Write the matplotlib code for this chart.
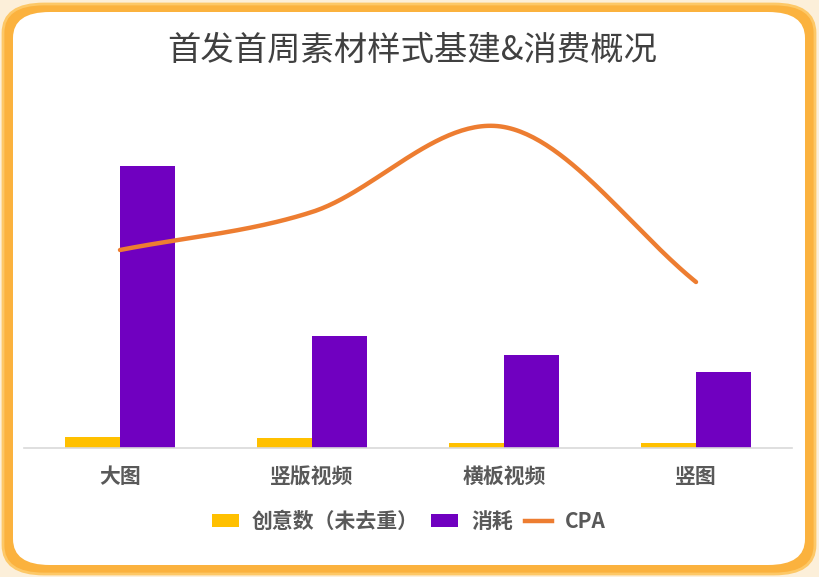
import numpy as np
import matplotlib
matplotlib.use("Agg")
import matplotlib.pyplot as plt
from matplotlib.patches import FancyBboxPatch, Patch
from matplotlib.lines import Line2D

plt.rcParams['font.family'] = ['Noto Sans CJK SC', 'DejaVu Sans']

categories = ['大图', '竖版视频', '横板视频', '竖图']
creatives = [11, 10, 5, 5]          # 创意数（未去重）
consumption = [282, 112, 93, 76]    # 消耗
cpa = [198, 236, 321, 166]          # CPA
title = '首发首周素材样式基建&消费概况'
legend_labels = ['创意数（未去重）', '消耗', 'CPA']

W, H = 819, 577
fig = plt.figure(figsize=(W / 100, H / 100), dpi=100)
fig.patch.set_facecolor('#FCEFD9')

# frame
outer = FancyBboxPatch((3 / W, 3 / H), 812 / W, 570 / H,
                       boxstyle="round,pad=0,rounding_size=0.05",
                       transform=fig.transFigure, facecolor='#FBB23E',
                       edgecolor='#FDC867', linewidth=2, zorder=-3)
inner = FancyBboxPatch((13 / W, 12 / H), 792 / W, 553 / H,
                       boxstyle="round,pad=0,rounding_size=0.045",
                       transform=fig.transFigure, facecolor='white',
                       edgecolor='none', zorder=-2)
fig.patches.extend([outer, inner])

ax = fig.add_axes([24 / W, 1 - 448 / H, (792 - 24) / W, (448 - 100) / H])
ax.set_facecolor('none')
x = np.arange(len(categories))
bw = 55 / 192
ax.bar(x - bw / 2, creatives, width=bw, color='#FFC000', zorder=2)
ax.bar(x + bw / 2, consumption, width=bw, color='#7000C0', zorder=2)
ax.set_xlim(-0.5, len(categories) - 0.5)
ax.set_ylim(0, 348)
ax.set_yticks([])
for s in ['top', 'right', 'left']:
    ax.spines[s].set_visible(False)
ax.spines['bottom'].set_color('#D9D9D9')
ax.spines['bottom'].set_linewidth(1.2)
ax.set_xticks(x)
ax.set_xticklabels(categories, fontsize=15, fontweight='bold', color='#595959')
ax.tick_params(axis='x', length=0, pad=13)

# CPA on secondary axis, smooth line (Catmull-Rom rendering through data points)
ax2 = ax.twinx()
ax2.set_ylim(0, 348)
ax2.set_yticks([])
for s in ax2.spines.values():
    s.set_visible(False)
P = np.column_stack([x.astype(float), np.array(cpa, dtype=float)])
Pe = np.vstack([P[0] - (P[1] - P[0]), P, P[-1] + (P[-1] - P[-2])])
pts = []
t = np.linspace(0, 1, 60)
for i in range(1, len(Pe) - 2):
    p0, p1, p2, p3 = Pe[i - 1], Pe[i], Pe[i + 1], Pe[i + 2]
    m1 = (p2 - p0) / 2
    m2 = (p3 - p1) / 2
    h00 = 2 * t**3 - 3 * t**2 + 1
    h10 = t**3 - 2 * t**2 + t
    h01 = -2 * t**3 + 3 * t**2
    h11 = t**3 - t**2
    seg = (h00[:, None] * p1 + h10[:, None] * m1 + h01[:, None] * p2 + h11[:, None] * m2)
    pts.append(seg)
curve = np.vstack(pts)
ax2.plot(curve[:, 0], curve[:, 1], color='#ED7D31', linewidth=3.2, solid_capstyle='round', zorder=3)

fig.text(412 / W, 1 - 50 / H, title, ha='center', va='center', fontsize=24, color='#404040')

handles = [Patch(facecolor='#FFC000'), Patch(facecolor='#7000C0'),
           Line2D([0], [0], color='#ED7D31', linewidth=3.2)]
leg = fig.legend(handles, legend_labels, loc='center', bbox_to_anchor=(409 / W, 1 - 521 / H),
                 ncol=3, frameon=False, prop={'size': 15, 'weight': 'bold'},
                 handlelength=1.3, handleheight=0.6, columnspacing=0.6, handletextpad=0.6)
for tx in leg.get_texts():
    tx.set_color('#595959')

fig.savefig('out.png', dpi=100, facecolor=fig.get_facecolor())
